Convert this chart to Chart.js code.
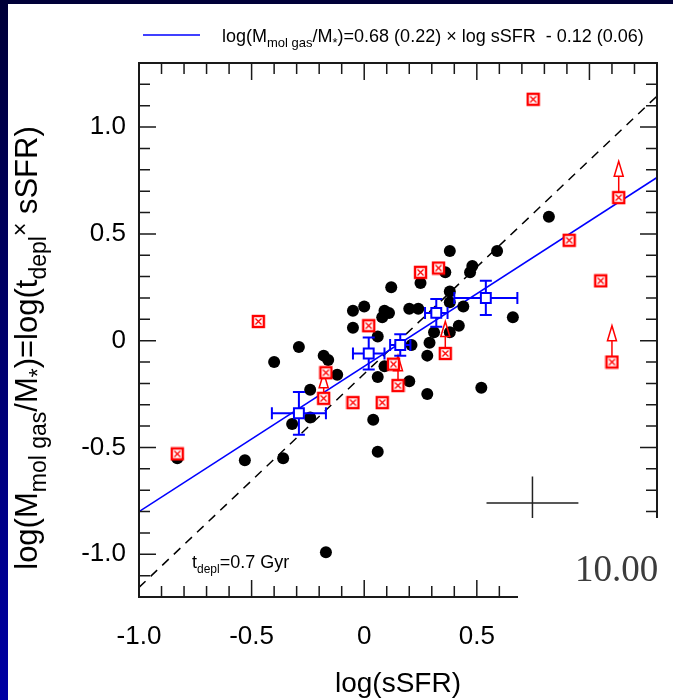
<!DOCTYPE html>
<html lang="en">

<head>
  <meta charset="UTF-8">
  <title>Fração de gás molecular vs sSFR</title>
  <script src="https://cdn.jsdelivr.net/npm/chart.js"></script>
  <style>
    html, body { margin: 0; padding: 0; background: #fff; }
    .moldura { position: relative; width: 673px; height: 700px; overflow: hidden; background: #fff; }
    .moldura canvas { position: absolute; left: 0; top: 0; }
    .borda-topo { position: absolute; left: 0; top: 0; width: 673px; height: 4px; background: #000038; }
    .borda-esq { position: absolute; left: 0; top: 0; width: 8px; height: 700px; background: linear-gradient(#000038, #0000a4); }
  </style>
</head>

<body>
  <div class="moldura">
    <canvas id="grafico" width="673" height="700"></canvas>
    <div class="borda-topo"></div>
    <div class="borda-esq"></div>
  </div>

  <script>
    // galáxias detectadas (pontos pretos)
    const pretoX = [0.82, 0.59, 0.38, 0.48, 0.47, 0.36, 0.25, 0.12, 0.38, 0.38, 0.44, 0.20, 0.24, 0.66, 0.42,
      0.31, 0.38, -0.05, 0.00, 0.09, 0.08, 0.11, -0.05, 0.06, -0.29, -0.40, -0.18, -0.16, -0.12, -0.24,
      -0.32, -0.24, -0.53, -0.36, 0.06, 0.04, 0.06, -0.17, 0.09, -0.83, 0.29, 0.28, 0.20, 0.28, 0.52, 0.21];
    const pretoY = [0.58, 0.42, 0.42, 0.35, 0.32, 0.32, 0.27, 0.25, 0.23, 0.18, 0.16, 0.15, 0.15, 0.11, 0.07,
      0.04, 0.04, 0.14, 0.16, 0.14, 0.11, 0.13, 0.06, 0.02, -0.03, -0.10, -0.07, -0.09, -0.16, -0.23,
      -0.39, -0.36, -0.56, -0.55, -0.17, -0.37, -0.52, -0.99, -0.12, -0.55, -0.01, -0.07, -0.19, -0.25, -0.22, -0.02];

    // limites (quadrados vermelhos) e ponta da seta quando houver
    const vermX = [0.75, 1.13, 0.91, 1.05, 1.10, 0.25, 0.33, 0.02, -0.47, -0.17, -0.18, -0.05, 0.08, 0.13, 0.15, 0.36, -0.83];
    const vermY = [1.13, 0.67, 0.47, 0.28, -0.10, 0.32, 0.34, 0.07, 0.09, -0.15, -0.27, -0.29, -0.29, -0.11, -0.21, -0.06, -0.53];
    const vermSeta = [null, 0.84, null, null, 0.07, null, null, null, null, null, -0.15, null, null, null, -0.07, 0.09, null];

    // médias por intervalo (quadrados azuis) com barras de erro
    const azulX = [-0.29, 0.02, 0.16, 0.32, 0.54];
    const azulY = [-0.34, -0.06, -0.02, 0.13, 0.20];
    const azulErrX = [0.12, 0.07, 0.045, 0.05, 0.14];
    const azulErrY = [0.10, 0.075, 0.05, 0.065, 0.08];

    // ajuste e tempo de depleção
    const ajusteInclinacao = 0.68;
    const ajusteIntercepto = -0.12;
    const tDepl = 0.7;
    const linhaX = [-1.0, 1.3];

    // erro típico (cruz)
    const cruzX = 0.747, cruzY = -0.76, cruzDx = 0.204, cruzDy = 0.124;

    const ticksXValores = [-1.0, -0.5, 0, 0.5];
    const ticksXTexto = ['-1.0', '-0.5', '0', '0.5'];
    const ticksYValores = [-1.0, -0.5, 0, 0.5, 1.0];
    const ticksYTexto = ['-1.0', '-0.5', '0', '0.5', '1.0'];

    const fonte = '"Liberation Sans", Arial, sans-serif';

    // marcador ⊠ vermelho
    const quadradoX = document.createElement('canvas');
    quadradoX.width = 15; quadradoX.height = 15;
    (function () {
      const c = quadradoX.getContext('2d');
      c.fillStyle = '#fff';
      c.fillRect(1, 1, 13, 13);
      c.strokeStyle = '#ff0000';
      c.lineWidth = 2.4;
      c.strokeRect(2, 2, 11, 11);
      c.lineWidth = 1.3;
      c.beginPath();
      c.moveTo(4.5, 4.5); c.lineTo(10.5, 10.5);
      c.moveTo(10.5, 4.5); c.lineTo(4.5, 10.5);
      c.stroke();
    })();

    function textoRico(ctx, partes, x, y, base, alinhar, razao) {
      const r = razao || 0.66;
      const tam = t => t === 'sub' || t === 'sup' ? Math.round(base * r) : base;
      const desl = t => t === 'sub' ? base * 0.28 : t === 'sup' ? -base * 0.3 : 0;
      let total = 0;
      partes.forEach(([s, t]) => {
        ctx.font = tam(t) + 'px ' + fonte;
        total += ctx.measureText(s).width;
      });
      let cx = alinhar === 'center' ? x - total / 2 : x;
      ctx.textAlign = 'left';
      ctx.textBaseline = 'alphabetic';
      partes.forEach(([s, t]) => {
        ctx.font = tam(t) + 'px ' + fonte;
        ctx.fillText(s, cx, y + desl(t));
        cx += ctx.measureText(s).width;
      });
    }

    const extras = {
      id: 'extras',
      beforeDatasetDraw(chart, args) {
        const { ctx, scales: { x, y } } = chart;
        ctx.save();
        if (args.index === 0) {
          // barras de erro azuis
          ctx.strokeStyle = '#0000ff';
          ctx.lineWidth = 2;
          azulX.forEach((vx, i) => {
            const px = x.getPixelForValue(vx), py = y.getPixelForValue(azulY[i]);
            const x1 = x.getPixelForValue(vx - azulErrX[i]), x2 = x.getPixelForValue(vx + azulErrX[i]);
            const y1 = y.getPixelForValue(azulY[i] + azulErrY[i]), y2 = y.getPixelForValue(azulY[i] - azulErrY[i]);
            ctx.beginPath();
            ctx.moveTo(x1, py); ctx.lineTo(x2, py);
            ctx.moveTo(x1, py - 6); ctx.lineTo(x1, py + 6);
            ctx.moveTo(x2, py - 6); ctx.lineTo(x2, py + 6);
            ctx.moveTo(px, y1); ctx.lineTo(px, y2);
            ctx.moveTo(px - 6, y1); ctx.lineTo(px + 6, y1);
            ctx.moveTo(px - 6, y2); ctx.lineTo(px + 6, y2);
            ctx.stroke();
          });
        }
        if (args.index === 1) {
          // setas de limite inferior
          ctx.strokeStyle = '#ff0000';
          ctx.lineWidth = 1.5;
          vermX.forEach((vx, i) => {
            if (vermSeta[i] === null) return;
            const px = x.getPixelForValue(vx);
            const p0 = y.getPixelForValue(vermY[i]);
            const p1 = y.getPixelForValue(vermSeta[i]);
            ctx.beginPath();
            ctx.moveTo(px, p0); ctx.lineTo(px, p1 + 15);
            ctx.moveTo(px, p1); ctx.lineTo(px - 4.5, p1 + 15); ctx.lineTo(px + 4.5, p1 + 15); ctx.closePath();
            ctx.stroke();
          });
        }
        ctx.restore();
      },
      afterDraw(chart) {
        const { ctx, chartArea: a, scales: { x, y } } = chart;
        ctx.save();
        ctx.strokeStyle = '#1a1a1a';
        ctx.lineWidth = 2;
        ctx.strokeRect(a.left, a.top, a.right - a.left, a.bottom - a.top);
        ctx.lineWidth = 1.5;
        ctx.beginPath();
        for (let k = -10; k <= 13; k++) {
          const px = x.getPixelForValue(k / 10), len = k % 5 === 0 ? 17 : 11;
          ctx.moveTo(px, a.bottom); ctx.lineTo(px, a.bottom - len);
          ctx.moveTo(px, a.top); ctx.lineTo(px, a.top + len);
        }
        for (let k = -12; k <= 13; k++) {
          const py = y.getPixelForValue(k / 10), len = k % 5 === 0 ? 17 : 11;
          ctx.moveTo(a.left, py); ctx.lineTo(a.left + len, py);
          ctx.moveTo(a.right, py); ctx.lineTo(a.right - len, py);
        }
        ctx.stroke();

        // cruz de erro típico
        ctx.strokeStyle = '#222';
        ctx.lineWidth = 1.5;
        ctx.beginPath();
        ctx.moveTo(x.getPixelForValue(cruzX - cruzDx), y.getPixelForValue(cruzY));
        ctx.lineTo(x.getPixelForValue(cruzX + cruzDx), y.getPixelForValue(cruzY));
        ctx.moveTo(x.getPixelForValue(cruzX), y.getPixelForValue(cruzY + cruzDy));
        ctx.lineTo(x.getPixelForValue(cruzX), y.getPixelForValue(cruzY - cruzDy));
        ctx.stroke();

        // caixa branca que cobre o canto inferior direito
        ctx.fillStyle = '#fff';
        ctx.fillRect(518, 518, 160, 90);
        ctx.fillStyle = '#3c3c3c';
        ctx.font = '37px "Liberation Serif", serif';
        ctx.textAlign = 'left';
        ctx.textBaseline = 'alphabetic';
        ctx.fillText('10.00', 575, 581);

        // rótulos dos eixos
        ctx.fillStyle = '#000';
        ctx.font = '26px ' + fonte;
        ctx.textAlign = 'center';
        ctx.textBaseline = 'middle';
        ticksXValores.forEach((v, i) => ctx.fillText(ticksXTexto[i], x.getPixelForValue(v), 637));
        ctx.textAlign = 'right';
        ticksYValores.forEach((v, i) => ctx.fillText(ticksYTexto[i], 126, y.getPixelForValue(v)));

        ctx.font = '28px ' + fonte;
        ctx.textAlign = 'center';
        ctx.textBaseline = 'alphabetic';
        ctx.fillText('log(sSFR)', (a.left + a.right) / 2, 692);

        ctx.save();
        ctx.translate(37, 348);
        ctx.rotate(-Math.PI / 2);
        textoRico(ctx, [['log(M', ''], ['mol gas', 'sub'], ['/M', ''], ['*', 'sub'], [')=log(t', ''], ['depl', 'sub'],
          ['×', 'sup'], [' sSFR)', '']], 0, 0, 31, 'center', 0.75);
        ctx.restore();

        // rótulo t_depl
        textoRico(ctx, [['t', ''], ['depl', 'sub'], ['=0.7 Gyr', '']], 192, 568, 18, 'left');

        // legenda
        ctx.strokeStyle = '#0000ff';
        ctx.lineWidth = 1.5;
        ctx.beginPath();
        ctx.moveTo(143, 35); ctx.lineTo(200, 35);
        ctx.stroke();
        ctx.fillStyle = '#000';
        textoRico(ctx, [['log(M', ''], ['mol gas', 'sub'], ['/M', ''], ['*', 'sub'],
          [')=0.68 (0.22) × log sSFR  - 0.12 (0.06)', '']], 222, 42, 18, 'left', 0.7);
        ctx.restore();
      }
    };

    new Chart(document.getElementById('grafico'), {
      type: 'scatter',
      data: {
        datasets: [
          {
            label: 'médias',
            data: azulX.map((v, i) => ({ x: v, y: azulY[i] })),
            pointStyle: 'rect',
            pointRadius: 7,
            borderWidth: 2,
            borderColor: '#0000ff',
            backgroundColor: '#fff'
          },
          {
            label: 'limites',
            data: vermX.map((v, i) => ({ x: v, y: vermY[i] })),
            pointStyle: quadradoX,
            pointRadius: 7
          },
          {
            label: 'galáxias',
            data: pretoX.map((v, i) => ({ x: v, y: pretoY[i] })),
            pointRadius: 6,
            borderWidth: 0,
            backgroundColor: '#000'
          },
          {
            label: 'ajuste',
            data: linhaX.map(v => ({ x: v, y: ajusteInclinacao * v + ajusteIntercepto })),
            showLine: true,
            pointRadius: 0,
            borderColor: '#0000ff',
            borderWidth: 1.5
          },
          {
            label: 'tdepl',
            data: linhaX.map(v => ({ x: v, y: v + Math.log10(tDepl) })),
            showLine: true,
            pointRadius: 0,
            borderColor: '#000',
            borderWidth: 1.5,
            borderDash: [9, 7]
          }
        ]
      },
      options: {
        responsive: false,
        animation: false,
        devicePixelRatio: 1,
        layout: { padding: { left: 139, right: 16, top: 63, bottom: 103 } },
        plugins: { legend: { display: false }, tooltip: { enabled: false } },
        scales: {
          x: { type: 'linear', min: -1.0, max: 1.3, display: false },
          y: { type: 'linear', min: -1.2, max: 1.3, display: false }
        }
      },
      plugins: [extras]
    });
  </script>
</body>

</html>
